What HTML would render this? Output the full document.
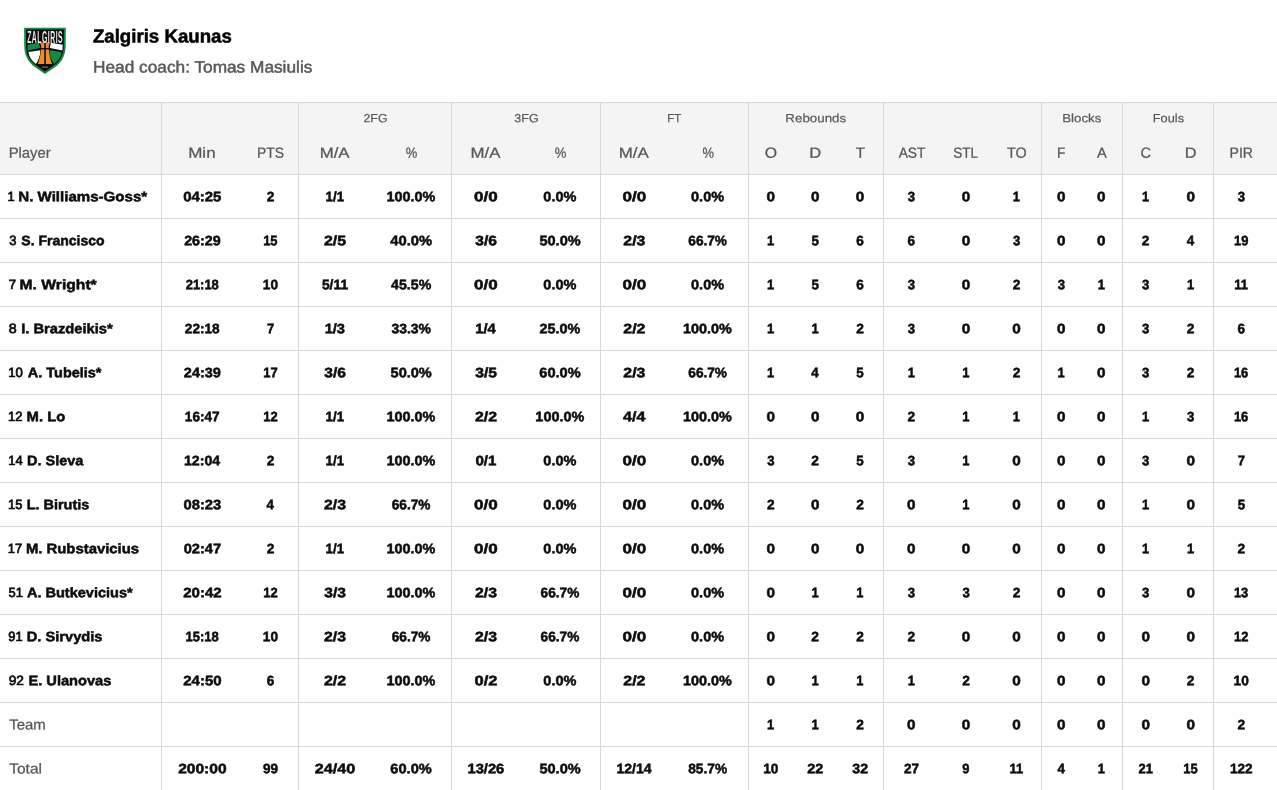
<!DOCTYPE html>
<html lang="en">
<head>
<meta charset="utf-8">
<title>Zalgiris Kaunas - Box score</title>
<style>
*{box-sizing:border-box;margin:0;padding:0}
html,body{width:1277px;height:790px;overflow:hidden;background:#fff}
body{font-family:"Liberation Sans",sans-serif;color:#0d0d0d}
.page{will-change:transform;position:relative;width:1277px;height:790px;overflow:hidden}
.team{position:absolute;left:0;top:0;width:1277px;height:102px}
.logo{position:absolute;left:20px;top:24px;width:50px;height:54px}
.logo svg{display:block}
.x{position:absolute;left:0;top:0;display:block;white-space:nowrap;line-height:20px;transform-origin:0 0;font-size:14.7px}
.tname{color:#000}
.coach{color:#575757}
.tbl{position:absolute;left:0;top:102px;width:1277px;height:688px}
.hd{position:absolute;left:0;top:0;width:1277px;height:73px;background:#f4f4f4;border-top:1px solid #d8d8d8;border-bottom:1px solid #d8d8d8;color:#575757}
.hd .c{top:0;height:71px}
.r{position:absolute;left:0;width:1277px;height:44px;border-bottom:1px solid #d8d8d8}
.c{position:absolute;top:0;height:43px}
.t{color:#575757}
.vl{position:absolute;top:1px;width:1px;height:687px;background:#d8d8d8}
.tname{font-weight:700;font-size:18.6px;-webkit-text-stroke:0.5px currentColor}
.coach{font-weight:400;font-size:17.2px;-webkit-text-stroke:0.5px currentColor}
.h{font-weight:400;font-size:14.7px;-webkit-text-stroke:0.25px currentColor}
.g{font-weight:400;font-size:13px;-webkit-text-stroke:0.2px currentColor}
b.x{font-weight:700;font-size:14.7px;-webkit-text-stroke:0.55px currentColor}
.n{font-weight:400;font-size:14.7px;-webkit-text-stroke:0.8px currentColor}
.t{font-weight:400;font-size:14.7px;-webkit-text-stroke:0.25px currentColor}
</style>
</head>
<body>
<div class="page">
<div class="team">
<div class="logo"><svg width="50" height="54" viewBox="0 0 731 790">
<path d="M60,55 L670,55 L668,330 C665,450 620,540 540,612 L365,732 L190,612 C110,540 65,450 62,330 Z" fill="#0d8a43"/>
<path d="M88,82 L642,82 L640,330 C637,440 598,522 522,586 L365,696 L208,586 C132,522 93,440 90,330 Z" fill="#0a0a0a"/>
<path d="M110,304 L280,274 L294,350 L114,388 Z" fill="#138a45"/>
<path d="M450,274 L626,304 L620,388 L438,350 Z" fill="#ffffff"/>
<path d="M122,410 L296,384 C298,450 278,520 232,586 C172,540 132,480 122,410 Z" fill="#ffffff"/>
<path d="M436,384 L610,410 C598,480 558,540 498,586 C452,520 432,450 436,384 Z" fill="#138a45"/>
<path d="M288,268 L442,268 C424,300 418,325 421,350 C428,450 445,520 470,586 L260,586 C285,520 302,450 309,350 C312,325 306,300 288,268 Z" fill="#f08a24"/>
<rect x="355" y="266" width="22" height="324" fill="#0a0a0a"/>
<rect x="302" y="352" width="126" height="20" fill="#0a0a0a"/>
<text transform="translate(368 274) scale(0.43 1)" text-anchor="middle" fill="#ffffff" font-family="Liberation Sans" font-weight="700" font-size="232" letter-spacing="18" stroke="#0a0a0a" stroke-width="3">ZALGIRIS</text>
<path d="M118,98 L134,108 L150,98 L150,106 L134,116 L118,106 Z" fill="#ffffff" opacity="0.8"/>
<rect x="320" y="624" width="92" height="13" fill="#cfcfcf" opacity="0.7"/>
</svg>
</div>
<h2 class="x tname" style="transform:matrix(1.0033,0.0005,0,1.0113,92.90,26.37)">Zalgiris Kaunas</h2>
<p class="x coach" style="transform:matrix(1.0039,0.0005,0,0.9469,93.05,57.31)">Head coach: Tomas Masiulis</p>
</div>
<div class="tbl">
<div class="hd">
<div class="c" style="left:0px;width:161px"><span class="x h" style="transform:matrix(1.0099,0.0005,0,1.0000,8.64,39.85)">Player</span></div>
<div class="c" style="left:162px;width:81px"><span class="x h" style="transform:matrix(1.1591,0.0005,0,1.0000,26.19,39.85)">Min</span></div>
<div class="c" style="left:243px;width:55px"><span class="x h" style="transform:matrix(0.9481,0.0005,0,1.0000,14.00,39.85)">PTS</span></div>
<div class="c" style="left:299px;width:72px"><span class="x h" style="transform:matrix(1.1406,0.0005,0,1.0000,20.71,39.85)">M/A</span></div>
<div class="c" style="left:371px;width:80px"><span class="x h" style="transform:matrix(0.8800,0.0005,0,1.0000,34.63,39.85)">%</span></div>
<div class="c" style="left:452px;width:68px"><span class="x h" style="transform:matrix(1.1446,0.0005,0,1.0000,18.61,39.85)">M/A</span></div>
<div class="c" style="left:520px;width:80px"><span class="x h" style="transform:matrix(0.8880,0.0005,0,1.0000,34.73,39.85)">%</span></div>
<div class="c" style="left:601px;width:67px"><span class="x h" style="transform:matrix(1.1525,0.0005,0,1.0000,17.70,39.85)">M/A</span></div>
<div class="c" style="left:668px;width:80px"><span class="x h" style="transform:matrix(0.8800,0.0005,0,1.0000,34.53,39.85)">%</span></div>
<div class="c" style="left:749px;width:43px"><span class="x h" style="transform:matrix(1.0762,0.0005,0,1.0000,15.71,39.85)">O</span></div>
<div class="c" style="left:792px;width:46px"><span class="x h" style="transform:matrix(1.1222,0.0005,0,1.0000,17.23,39.85)">D</span></div>
<div class="c" style="left:838px;width:45px"><span class="x h" style="transform:matrix(1.0235,0.0005,0,1.0000,17.79,39.85)">T</span></div>
<div class="c" style="left:884px;width:54px"><span class="x h" style="transform:matrix(0.9381,0.0005,0,1.0000,14.65,39.85)">AST</span></div>
<div class="c" style="left:938px;width:55px"><span class="x h" style="transform:matrix(0.9231,0.0005,0,1.0000,15.29,39.85)">STL</span></div>
<div class="c" style="left:993px;width:48px"><span class="x h" style="transform:matrix(0.9766,0.0005,0,1.0000,13.91,39.85)">TO</span></div>
<div class="c" style="left:1042px;width:39px"><span class="x h" style="transform:matrix(0.9333,0.0005,0,1.0000,15.02,39.85)">F</span></div>
<div class="c" style="left:1081px;width:41px"><span class="x h" style="transform:matrix(1.0000,0.0005,0,1.0000,16.05,39.85)">A</span></div>
<div class="c" style="left:1123px;width:45px"><span class="x h" style="transform:matrix(0.9949,0.0005,0,1.0000,17.45,39.85)">C</span></div>
<div class="c" style="left:1168px;width:45px"><span class="x h" style="transform:matrix(1.1111,0.0005,0,1.0000,16.84,39.85)">D</span></div>
<div class="c" style="left:1214px;width:63px"><span class="x h" style="transform:matrix(0.9609,0.0005,0,1.0000,15.49,39.85)">PIR</span></div>
<span class="x g" style="transform:matrix(0.9500,0.0005,0,0.9189,363.47,6.46)">2FG</span>
<span class="x g" style="transform:matrix(0.9625,0.0005,0,0.9189,514.37,6.46)">3FG</span>
<span class="x g" style="transform:matrix(0.8800,0.0005,0,0.9189,667.28,6.46)">FT</span>
<span class="x g" style="transform:matrix(1.0276,0.0005,0,0.9189,785.32,6.46)">Rebounds</span>
<span class="x g" style="transform:matrix(1.0243,0.0005,0,0.9189,1062.13,6.46)">Blocks</span>
<span class="x g" style="transform:matrix(0.9836,0.0005,0,0.9189,1152.77,6.46)">Fouls</span>
</div>
<div class="r" style="top:73px"><div class="c" style="left:0px;width:161px"><span class="x n" style="transform:matrix(0.8800,0.0005,0,0.9136,7.60,12.25)">1</span><b class="x" style="transform:matrix(1.0267,0.0005,0,0.9349,18.28,12.18)">N. Williams-Goss*</b></div><div class="c" style="left:162px;width:81px"><b class="x" style="transform:matrix(1.0158,0.0005,0,0.9349,21.18,12.18)">04:25</b></div><div class="c" style="left:243px;width:55px"><b class="x" style="transform:matrix(0.9362,0.0005,0,0.9349,23.64,12.18)">2</b></div><div class="c" style="left:299px;width:72px"><b class="x" style="transform:matrix(0.9065,0.0005,0,0.9349,26.60,12.18)">1/1</b></div><div class="c" style="left:371px;width:80px"><b class="x" style="transform:matrix(0.9804,0.0005,0,0.9349,15.47,12.18)">100.0%</b></div><div class="c" style="left:452px;width:68px"><b class="x" style="transform:matrix(1.1592,0.0005,0,0.9349,22.12,12.18)">0/0</b></div><div class="c" style="left:520px;width:80px"><b class="x" style="transform:matrix(0.9881,0.0005,0,0.9349,23.33,12.18)">0.0%</b></div><div class="c" style="left:601px;width:67px"><b class="x" style="transform:matrix(1.1592,0.0005,0,0.9349,21.52,12.18)">0/0</b></div><div class="c" style="left:668px;width:80px"><b class="x" style="transform:matrix(0.9881,0.0005,0,0.9349,23.03,12.18)">0.0%</b></div><div class="c" style="left:749px;width:43px"><b class="x" style="transform:matrix(1.0377,0.0005,0,0.9349,17.57,12.18)">0</b></div><div class="c" style="left:792px;width:46px"><b class="x" style="transform:matrix(1.0377,0.0005,0,0.9349,18.92,12.18)">0</b></div><div class="c" style="left:838px;width:45px"><b class="x" style="transform:matrix(1.0377,0.0005,0,0.9349,17.72,12.18)">0</b></div><div class="c" style="left:884px;width:54px"><b class="x" style="transform:matrix(0.8979,0.0005,0,0.9349,23.81,12.18)">3</b></div><div class="c" style="left:938px;width:55px"><b class="x" style="transform:matrix(1.0377,0.0005,0,0.9349,23.72,12.18)">0</b></div><div class="c" style="left:993px;width:48px"><b class="x" style="transform:matrix(0.8800,0.0005,0,0.9349,19.76,12.18)">1</b></div><div class="c" style="left:1042px;width:39px"><b class="x" style="transform:matrix(1.0377,0.0005,0,0.9349,15.02,12.18)">0</b></div><div class="c" style="left:1081px;width:41px"><b class="x" style="transform:matrix(1.0377,0.0005,0,0.9349,16.12,12.18)">0</b></div><div class="c" style="left:1123px;width:45px"><b class="x" style="transform:matrix(0.8800,0.0005,0,0.9349,18.96,12.18)">1</b></div><div class="c" style="left:1168px;width:45px"><b class="x" style="transform:matrix(1.0377,0.0005,0,0.9349,18.42,12.18)">0</b></div><div class="c" style="left:1214px;width:63px"><b class="x" style="transform:matrix(0.8979,0.0005,0,0.9349,23.71,12.18)">3</b></div></div>
<div class="r" style="top:117px"><div class="c" style="left:0px;width:161px"><span class="x n" style="transform:matrix(0.8800,0.0005,0,0.9136,9.13,12.25)">3</span><b class="x" style="transform:matrix(0.9546,0.0005,0,0.9349,21.30,12.18)">S. Francisco</b></div><div class="c" style="left:162px;width:81px"><b class="x" style="transform:matrix(0.9708,0.0005,0,0.9349,22.15,12.18)">26:29</b></div><div class="c" style="left:243px;width:55px"><b class="x" style="transform:matrix(0.8800,0.0005,0,0.9349,20.13,12.18)">15</b></div><div class="c" style="left:299px;width:72px"><b class="x" style="transform:matrix(1.0820,0.0005,0,0.9349,24.91,12.18)">2/5</b></div><div class="c" style="left:371px;width:80px"><b class="x" style="transform:matrix(1.0024,0.0005,0,0.9349,19.30,12.18)">40.0%</b></div><div class="c" style="left:452px;width:68px"><b class="x" style="transform:matrix(1.0580,0.0005,0,0.9349,23.29,12.18)">3/6</b></div><div class="c" style="left:520px;width:80px"><b class="x" style="transform:matrix(0.9911,0.0005,0,0.9349,19.43,12.18)">50.0%</b></div><div class="c" style="left:601px;width:67px"><b class="x" style="transform:matrix(1.0770,0.0005,0,0.9349,22.36,12.18)">2/3</b></div><div class="c" style="left:668px;width:80px"><b class="x" style="transform:matrix(0.9294,0.0005,0,0.9349,20.30,12.18)">66.7%</b></div><div class="c" style="left:749px;width:43px"><b class="x" style="transform:matrix(0.8800,0.0005,0,0.9349,18.11,12.18)">1</b></div><div class="c" style="left:792px;width:46px"><b class="x" style="transform:matrix(0.9106,0.0005,0,0.9349,19.56,12.18)">5</b></div><div class="c" style="left:838px;width:45px"><b class="x" style="transform:matrix(0.9214,0.0005,0,0.9349,18.20,12.18)">6</b></div><div class="c" style="left:884px;width:54px"><b class="x" style="transform:matrix(0.9214,0.0005,0,0.9349,23.60,12.18)">6</b></div><div class="c" style="left:938px;width:55px"><b class="x" style="transform:matrix(1.0377,0.0005,0,0.9349,23.72,12.18)">0</b></div><div class="c" style="left:993px;width:48px"><b class="x" style="transform:matrix(0.8979,0.0005,0,0.9349,19.91,12.18)">3</b></div><div class="c" style="left:1042px;width:39px"><b class="x" style="transform:matrix(1.0377,0.0005,0,0.9349,15.02,12.18)">0</b></div><div class="c" style="left:1081px;width:41px"><b class="x" style="transform:matrix(1.0377,0.0005,0,0.9349,16.12,12.18)">0</b></div><div class="c" style="left:1123px;width:45px"><b class="x" style="transform:matrix(0.9362,0.0005,0,0.9349,18.84,12.18)">2</b></div><div class="c" style="left:1168px;width:45px"><b class="x" style="transform:matrix(0.9121,0.0005,0,0.9349,18.82,12.18)">4</b></div><div class="c" style="left:1214px;width:63px"><b class="x" style="transform:matrix(0.8800,0.0005,0,0.9349,20.04,12.18)">19</b></div></div>
<div class="r" style="top:161px"><div class="c" style="left:0px;width:161px"><span class="x n" style="transform:matrix(0.8933,0.0005,0,0.9136,8.73,12.25)">7</span><b class="x" style="transform:matrix(1.0674,0.0005,0,0.9349,19.50,12.18)">M. Wright*</b></div><div class="c" style="left:162px;width:81px"><b class="x" style="transform:matrix(0.8800,0.0005,0,0.9349,23.74,12.18)">21:18</b></div><div class="c" style="left:243px;width:55px"><b class="x" style="transform:matrix(0.9314,0.0005,0,0.9349,19.82,12.18)">10</b></div><div class="c" style="left:299px;width:72px"><b class="x" style="transform:matrix(0.9434,0.0005,0,0.9349,22.91,12.18)">5/11</b></div><div class="c" style="left:371px;width:80px"><b class="x" style="transform:matrix(0.9659,0.0005,0,0.9349,20.06,12.18)">45.5%</b></div><div class="c" style="left:452px;width:68px"><b class="x" style="transform:matrix(1.1592,0.0005,0,0.9349,22.12,12.18)">0/0</b></div><div class="c" style="left:520px;width:80px"><b class="x" style="transform:matrix(0.9881,0.0005,0,0.9349,23.33,12.18)">0.0%</b></div><div class="c" style="left:601px;width:67px"><b class="x" style="transform:matrix(1.1592,0.0005,0,0.9349,21.52,12.18)">0/0</b></div><div class="c" style="left:668px;width:80px"><b class="x" style="transform:matrix(0.9881,0.0005,0,0.9349,23.03,12.18)">0.0%</b></div><div class="c" style="left:749px;width:43px"><b class="x" style="transform:matrix(0.8800,0.0005,0,0.9349,18.11,12.18)">1</b></div><div class="c" style="left:792px;width:46px"><b class="x" style="transform:matrix(0.9106,0.0005,0,0.9349,19.56,12.18)">5</b></div><div class="c" style="left:838px;width:45px"><b class="x" style="transform:matrix(0.9214,0.0005,0,0.9349,18.20,12.18)">6</b></div><div class="c" style="left:884px;width:54px"><b class="x" style="transform:matrix(0.8979,0.0005,0,0.9349,23.81,12.18)">3</b></div><div class="c" style="left:938px;width:55px"><b class="x" style="transform:matrix(1.0377,0.0005,0,0.9349,23.72,12.18)">0</b></div><div class="c" style="left:993px;width:48px"><b class="x" style="transform:matrix(0.9362,0.0005,0,0.9349,19.64,12.18)">2</b></div><div class="c" style="left:1042px;width:39px"><b class="x" style="transform:matrix(0.8979,0.0005,0,0.9349,15.71,12.18)">3</b></div><div class="c" style="left:1081px;width:41px"><b class="x" style="transform:matrix(0.8800,0.0005,0,0.9349,16.66,12.18)">1</b></div><div class="c" style="left:1123px;width:45px"><b class="x" style="transform:matrix(0.8979,0.0005,0,0.9349,19.11,12.18)">3</b></div><div class="c" style="left:1168px;width:45px"><b class="x" style="transform:matrix(0.8800,0.0005,0,0.9349,18.96,12.18)">1</b></div><div class="c" style="left:1214px;width:63px"><b class="x" style="transform:matrix(0.8800,0.0005,0,0.9349,20.26,12.18)">11</b></div></div>
<div class="r" style="top:205px"><div class="c" style="left:0px;width:161px"><span class="x n" style="transform:matrix(0.9677,0.0005,0,0.9136,8.71,12.25)">8</span><b class="x" style="transform:matrix(1.0011,0.0005,0,0.9349,21.20,12.18)">I. Brazdeikis*</b></div><div class="c" style="left:162px;width:81px"><b class="x" style="transform:matrix(0.9270,0.0005,0,0.9349,22.85,12.18)">22:18</b></div><div class="c" style="left:243px;width:55px"><b class="x" style="transform:matrix(0.8800,0.0005,0,0.9349,23.98,12.18)">7</b></div><div class="c" style="left:299px;width:72px"><b class="x" style="transform:matrix(0.9967,0.0005,0,0.9349,25.66,12.18)">1/3</b></div><div class="c" style="left:371px;width:80px"><b class="x" style="transform:matrix(0.9473,0.0005,0,0.9349,20.44,12.18)">33.3%</b></div><div class="c" style="left:452px;width:68px"><b class="x" style="transform:matrix(1.0002,0.0005,0,0.9349,23.37,12.18)">1/4</b></div><div class="c" style="left:520px;width:80px"><b class="x" style="transform:matrix(0.9781,0.0005,0,0.9349,19.58,12.18)">25.0%</b></div><div class="c" style="left:601px;width:67px"><b class="x" style="transform:matrix(1.0806,0.0005,0,0.9349,22.32,12.18)">2/2</b></div><div class="c" style="left:668px;width:80px"><b class="x" style="transform:matrix(0.9804,0.0005,0,0.9349,15.07,12.18)">100.0%</b></div><div class="c" style="left:749px;width:43px"><b class="x" style="transform:matrix(0.8800,0.0005,0,0.9349,18.11,12.18)">1</b></div><div class="c" style="left:792px;width:46px"><b class="x" style="transform:matrix(0.8800,0.0005,0,0.9349,19.46,12.18)">1</b></div><div class="c" style="left:838px;width:45px"><b class="x" style="transform:matrix(0.9362,0.0005,0,0.9349,18.14,12.18)">2</b></div><div class="c" style="left:884px;width:54px"><b class="x" style="transform:matrix(0.8979,0.0005,0,0.9349,23.81,12.18)">3</b></div><div class="c" style="left:938px;width:55px"><b class="x" style="transform:matrix(1.0377,0.0005,0,0.9349,23.72,12.18)">0</b></div><div class="c" style="left:993px;width:48px"><b class="x" style="transform:matrix(1.0377,0.0005,0,0.9349,19.22,12.18)">0</b></div><div class="c" style="left:1042px;width:39px"><b class="x" style="transform:matrix(1.0377,0.0005,0,0.9349,15.02,12.18)">0</b></div><div class="c" style="left:1081px;width:41px"><b class="x" style="transform:matrix(1.0377,0.0005,0,0.9349,16.12,12.18)">0</b></div><div class="c" style="left:1123px;width:45px"><b class="x" style="transform:matrix(0.8979,0.0005,0,0.9349,19.11,12.18)">3</b></div><div class="c" style="left:1168px;width:45px"><b class="x" style="transform:matrix(0.9362,0.0005,0,0.9349,18.84,12.18)">2</b></div><div class="c" style="left:1214px;width:63px"><b class="x" style="transform:matrix(0.9214,0.0005,0,0.9349,23.50,12.18)">6</b></div></div>
<div class="r" style="top:249px"><div class="c" style="left:0px;width:161px"><span class="x n" style="transform:matrix(0.8968,0.0005,0,0.9136,8.28,12.25)">10</span><b class="x" style="transform:matrix(0.9840,0.0005,0,0.9349,27.85,12.18)">A. Tubelis*</b></div><div class="c" style="left:162px;width:81px"><b class="x" style="transform:matrix(0.9854,0.0005,0,0.9349,21.87,12.18)">24:39</b></div><div class="c" style="left:243px;width:55px"><b class="x" style="transform:matrix(0.8800,0.0005,0,0.9349,20.24,12.18)">17</b></div><div class="c" style="left:299px;width:72px"><b class="x" style="transform:matrix(1.0580,0.0005,0,0.9349,25.29,12.18)">3/6</b></div><div class="c" style="left:371px;width:80px"><b class="x" style="transform:matrix(0.9911,0.0005,0,0.9349,19.53,12.18)">50.0%</b></div><div class="c" style="left:452px;width:68px"><b class="x" style="transform:matrix(1.0651,0.0005,0,0.9349,23.22,12.18)">3/5</b></div><div class="c" style="left:520px;width:80px"><b class="x" style="transform:matrix(0.9937,0.0005,0,0.9349,19.26,12.18)">60.0%</b></div><div class="c" style="left:601px;width:67px"><b class="x" style="transform:matrix(1.0770,0.0005,0,0.9349,22.36,12.18)">2/3</b></div><div class="c" style="left:668px;width:80px"><b class="x" style="transform:matrix(0.9294,0.0005,0,0.9349,20.30,12.18)">66.7%</b></div><div class="c" style="left:749px;width:43px"><b class="x" style="transform:matrix(0.8800,0.0005,0,0.9349,18.11,12.18)">1</b></div><div class="c" style="left:792px;width:46px"><b class="x" style="transform:matrix(0.9121,0.0005,0,0.9349,19.32,12.18)">4</b></div><div class="c" style="left:838px;width:45px"><b class="x" style="transform:matrix(0.9106,0.0005,0,0.9349,18.36,12.18)">5</b></div><div class="c" style="left:884px;width:54px"><b class="x" style="transform:matrix(0.8800,0.0005,0,0.9349,23.66,12.18)">1</b></div><div class="c" style="left:938px;width:55px"><b class="x" style="transform:matrix(0.8800,0.0005,0,0.9349,24.26,12.18)">1</b></div><div class="c" style="left:993px;width:48px"><b class="x" style="transform:matrix(0.9362,0.0005,0,0.9349,19.64,12.18)">2</b></div><div class="c" style="left:1042px;width:39px"><b class="x" style="transform:matrix(0.8800,0.0005,0,0.9349,15.56,12.18)">1</b></div><div class="c" style="left:1081px;width:41px"><b class="x" style="transform:matrix(1.0377,0.0005,0,0.9349,16.12,12.18)">0</b></div><div class="c" style="left:1123px;width:45px"><b class="x" style="transform:matrix(0.8979,0.0005,0,0.9349,19.11,12.18)">3</b></div><div class="c" style="left:1168px;width:45px"><b class="x" style="transform:matrix(0.9362,0.0005,0,0.9349,18.84,12.18)">2</b></div><div class="c" style="left:1214px;width:63px"><b class="x" style="transform:matrix(0.8800,0.0005,0,0.9349,19.93,12.18)">16</b></div></div>
<div class="r" style="top:293px"><div class="c" style="left:0px;width:161px"><span class="x n" style="transform:matrix(0.8800,0.0005,0,0.9136,8.08,12.25)">12</span><b class="x" style="transform:matrix(1.0094,0.0005,0,0.9349,26.59,12.18)">M. Lo</b></div><div class="c" style="left:162px;width:81px"><b class="x" style="transform:matrix(0.9276,0.0005,0,0.9349,22.84,12.18)">16:47</b></div><div class="c" style="left:243px;width:55px"><b class="x" style="transform:matrix(0.8806,0.0005,0,0.9349,20.23,12.18)">12</b></div><div class="c" style="left:299px;width:72px"><b class="x" style="transform:matrix(0.9065,0.0005,0,0.9349,26.60,12.18)">1/1</b></div><div class="c" style="left:371px;width:80px"><b class="x" style="transform:matrix(0.9804,0.0005,0,0.9349,15.47,12.18)">100.0%</b></div><div class="c" style="left:452px;width:68px"><b class="x" style="transform:matrix(1.0806,0.0005,0,0.9349,22.92,12.18)">2/2</b></div><div class="c" style="left:520px;width:80px"><b class="x" style="transform:matrix(0.9804,0.0005,0,0.9349,15.37,12.18)">100.0%</b></div><div class="c" style="left:601px;width:67px"><b class="x" style="transform:matrix(1.0895,0.0005,0,0.9349,22.10,12.18)">4/4</b></div><div class="c" style="left:668px;width:80px"><b class="x" style="transform:matrix(0.9804,0.0005,0,0.9349,15.07,12.18)">100.0%</b></div><div class="c" style="left:749px;width:43px"><b class="x" style="transform:matrix(1.0377,0.0005,0,0.9349,17.57,12.18)">0</b></div><div class="c" style="left:792px;width:46px"><b class="x" style="transform:matrix(1.0377,0.0005,0,0.9349,18.92,12.18)">0</b></div><div class="c" style="left:838px;width:45px"><b class="x" style="transform:matrix(1.0377,0.0005,0,0.9349,17.72,12.18)">0</b></div><div class="c" style="left:884px;width:54px"><b class="x" style="transform:matrix(0.9362,0.0005,0,0.9349,23.54,12.18)">2</b></div><div class="c" style="left:938px;width:55px"><b class="x" style="transform:matrix(0.8800,0.0005,0,0.9349,24.26,12.18)">1</b></div><div class="c" style="left:993px;width:48px"><b class="x" style="transform:matrix(0.8800,0.0005,0,0.9349,19.76,12.18)">1</b></div><div class="c" style="left:1042px;width:39px"><b class="x" style="transform:matrix(1.0377,0.0005,0,0.9349,15.02,12.18)">0</b></div><div class="c" style="left:1081px;width:41px"><b class="x" style="transform:matrix(1.0377,0.0005,0,0.9349,16.12,12.18)">0</b></div><div class="c" style="left:1123px;width:45px"><b class="x" style="transform:matrix(0.8800,0.0005,0,0.9349,18.96,12.18)">1</b></div><div class="c" style="left:1168px;width:45px"><b class="x" style="transform:matrix(0.8979,0.0005,0,0.9349,19.11,12.18)">3</b></div><div class="c" style="left:1214px;width:63px"><b class="x" style="transform:matrix(0.8800,0.0005,0,0.9349,19.93,12.18)">16</b></div></div>
<div class="r" style="top:337px"><div class="c" style="left:0px;width:161px"><span class="x n" style="transform:matrix(0.8839,0.0005,0,0.9136,8.29,12.25)">14</span><b class="x" style="transform:matrix(0.9850,0.0005,0,0.9349,27.11,12.18)">D. Sleva</b></div><div class="c" style="left:162px;width:81px"><b class="x" style="transform:matrix(0.9652,0.0005,0,0.9349,21.89,12.18)">12:04</b></div><div class="c" style="left:243px;width:55px"><b class="x" style="transform:matrix(0.9362,0.0005,0,0.9349,23.64,12.18)">2</b></div><div class="c" style="left:299px;width:72px"><b class="x" style="transform:matrix(0.9065,0.0005,0,0.9349,26.60,12.18)">1/1</b></div><div class="c" style="left:371px;width:80px"><b class="x" style="transform:matrix(0.9804,0.0005,0,0.9349,15.47,12.18)">100.0%</b></div><div class="c" style="left:452px;width:68px"><b class="x" style="transform:matrix(1.0272,0.0005,0,0.9349,23.47,12.18)">0/1</b></div><div class="c" style="left:520px;width:80px"><b class="x" style="transform:matrix(0.9881,0.0005,0,0.9349,23.33,12.18)">0.0%</b></div><div class="c" style="left:601px;width:67px"><b class="x" style="transform:matrix(1.1592,0.0005,0,0.9349,21.52,12.18)">0/0</b></div><div class="c" style="left:668px;width:80px"><b class="x" style="transform:matrix(0.9881,0.0005,0,0.9349,23.03,12.18)">0.0%</b></div><div class="c" style="left:749px;width:43px"><b class="x" style="transform:matrix(0.8979,0.0005,0,0.9349,18.26,12.18)">3</b></div><div class="c" style="left:792px;width:46px"><b class="x" style="transform:matrix(0.9362,0.0005,0,0.9349,19.34,12.18)">2</b></div><div class="c" style="left:838px;width:45px"><b class="x" style="transform:matrix(0.9106,0.0005,0,0.9349,18.36,12.18)">5</b></div><div class="c" style="left:884px;width:54px"><b class="x" style="transform:matrix(0.8979,0.0005,0,0.9349,23.81,12.18)">3</b></div><div class="c" style="left:938px;width:55px"><b class="x" style="transform:matrix(0.8800,0.0005,0,0.9349,24.26,12.18)">1</b></div><div class="c" style="left:993px;width:48px"><b class="x" style="transform:matrix(1.0377,0.0005,0,0.9349,19.22,12.18)">0</b></div><div class="c" style="left:1042px;width:39px"><b class="x" style="transform:matrix(1.0377,0.0005,0,0.9349,15.02,12.18)">0</b></div><div class="c" style="left:1081px;width:41px"><b class="x" style="transform:matrix(1.0377,0.0005,0,0.9349,16.12,12.18)">0</b></div><div class="c" style="left:1123px;width:45px"><b class="x" style="transform:matrix(0.8979,0.0005,0,0.9349,19.11,12.18)">3</b></div><div class="c" style="left:1168px;width:45px"><b class="x" style="transform:matrix(1.0377,0.0005,0,0.9349,18.42,12.18)">0</b></div><div class="c" style="left:1214px;width:63px"><b class="x" style="transform:matrix(0.8800,0.0005,0,0.9349,23.78,12.18)">7</b></div></div>
<div class="r" style="top:381px"><div class="c" style="left:0px;width:161px"><span class="x n" style="transform:matrix(0.8800,0.0005,0,0.9136,7.97,12.25)">15</span><b class="x" style="transform:matrix(0.9824,0.0005,0,0.9349,26.71,12.18)">L. Birutis</b></div><div class="c" style="left:162px;width:81px"><b class="x" style="transform:matrix(1.0027,0.0005,0,0.9349,21.55,12.18)">08:23</b></div><div class="c" style="left:243px;width:55px"><b class="x" style="transform:matrix(0.9121,0.0005,0,0.9349,23.62,12.18)">4</b></div><div class="c" style="left:299px;width:72px"><b class="x" style="transform:matrix(1.0770,0.0005,0,0.9349,24.96,12.18)">2/3</b></div><div class="c" style="left:371px;width:80px"><b class="x" style="transform:matrix(0.9294,0.0005,0,0.9349,20.70,12.18)">66.7%</b></div><div class="c" style="left:452px;width:68px"><b class="x" style="transform:matrix(1.1592,0.0005,0,0.9349,22.12,12.18)">0/0</b></div><div class="c" style="left:520px;width:80px"><b class="x" style="transform:matrix(0.9881,0.0005,0,0.9349,23.33,12.18)">0.0%</b></div><div class="c" style="left:601px;width:67px"><b class="x" style="transform:matrix(1.1592,0.0005,0,0.9349,21.52,12.18)">0/0</b></div><div class="c" style="left:668px;width:80px"><b class="x" style="transform:matrix(0.9881,0.0005,0,0.9349,23.03,12.18)">0.0%</b></div><div class="c" style="left:749px;width:43px"><b class="x" style="transform:matrix(0.9362,0.0005,0,0.9349,17.99,12.18)">2</b></div><div class="c" style="left:792px;width:46px"><b class="x" style="transform:matrix(1.0377,0.0005,0,0.9349,18.92,12.18)">0</b></div><div class="c" style="left:838px;width:45px"><b class="x" style="transform:matrix(0.9362,0.0005,0,0.9349,18.14,12.18)">2</b></div><div class="c" style="left:884px;width:54px"><b class="x" style="transform:matrix(1.0377,0.0005,0,0.9349,23.12,12.18)">0</b></div><div class="c" style="left:938px;width:55px"><b class="x" style="transform:matrix(0.8800,0.0005,0,0.9349,24.26,12.18)">1</b></div><div class="c" style="left:993px;width:48px"><b class="x" style="transform:matrix(1.0377,0.0005,0,0.9349,19.22,12.18)">0</b></div><div class="c" style="left:1042px;width:39px"><b class="x" style="transform:matrix(1.0377,0.0005,0,0.9349,15.02,12.18)">0</b></div><div class="c" style="left:1081px;width:41px"><b class="x" style="transform:matrix(1.0377,0.0005,0,0.9349,16.12,12.18)">0</b></div><div class="c" style="left:1123px;width:45px"><b class="x" style="transform:matrix(0.8800,0.0005,0,0.9349,18.96,12.18)">1</b></div><div class="c" style="left:1168px;width:45px"><b class="x" style="transform:matrix(1.0377,0.0005,0,0.9349,18.42,12.18)">0</b></div><div class="c" style="left:1214px;width:63px"><b class="x" style="transform:matrix(0.9106,0.0005,0,0.9349,23.66,12.18)">5</b></div></div>
<div class="r" style="top:425px"><div class="c" style="left:0px;width:161px"><span class="x n" style="transform:matrix(0.8800,0.0005,0,0.9136,7.83,12.25)">17</span><b class="x" style="transform:matrix(1.0122,0.0005,0,0.9349,25.89,12.18)">M. Rubstavicius</b></div><div class="c" style="left:162px;width:81px"><b class="x" style="transform:matrix(0.9958,0.0005,0,0.9349,21.68,12.18)">02:47</b></div><div class="c" style="left:243px;width:55px"><b class="x" style="transform:matrix(0.9362,0.0005,0,0.9349,23.64,12.18)">2</b></div><div class="c" style="left:299px;width:72px"><b class="x" style="transform:matrix(0.9065,0.0005,0,0.9349,26.60,12.18)">1/1</b></div><div class="c" style="left:371px;width:80px"><b class="x" style="transform:matrix(0.9804,0.0005,0,0.9349,15.47,12.18)">100.0%</b></div><div class="c" style="left:452px;width:68px"><b class="x" style="transform:matrix(1.1592,0.0005,0,0.9349,22.12,12.18)">0/0</b></div><div class="c" style="left:520px;width:80px"><b class="x" style="transform:matrix(0.9881,0.0005,0,0.9349,23.33,12.18)">0.0%</b></div><div class="c" style="left:601px;width:67px"><b class="x" style="transform:matrix(1.1592,0.0005,0,0.9349,21.52,12.18)">0/0</b></div><div class="c" style="left:668px;width:80px"><b class="x" style="transform:matrix(0.9881,0.0005,0,0.9349,23.03,12.18)">0.0%</b></div><div class="c" style="left:749px;width:43px"><b class="x" style="transform:matrix(1.0377,0.0005,0,0.9349,17.57,12.18)">0</b></div><div class="c" style="left:792px;width:46px"><b class="x" style="transform:matrix(1.0377,0.0005,0,0.9349,18.92,12.18)">0</b></div><div class="c" style="left:838px;width:45px"><b class="x" style="transform:matrix(1.0377,0.0005,0,0.9349,17.72,12.18)">0</b></div><div class="c" style="left:884px;width:54px"><b class="x" style="transform:matrix(1.0377,0.0005,0,0.9349,23.12,12.18)">0</b></div><div class="c" style="left:938px;width:55px"><b class="x" style="transform:matrix(1.0377,0.0005,0,0.9349,23.72,12.18)">0</b></div><div class="c" style="left:993px;width:48px"><b class="x" style="transform:matrix(1.0377,0.0005,0,0.9349,19.22,12.18)">0</b></div><div class="c" style="left:1042px;width:39px"><b class="x" style="transform:matrix(1.0377,0.0005,0,0.9349,15.02,12.18)">0</b></div><div class="c" style="left:1081px;width:41px"><b class="x" style="transform:matrix(1.0377,0.0005,0,0.9349,16.12,12.18)">0</b></div><div class="c" style="left:1123px;width:45px"><b class="x" style="transform:matrix(0.8800,0.0005,0,0.9349,18.96,12.18)">1</b></div><div class="c" style="left:1168px;width:45px"><b class="x" style="transform:matrix(0.8800,0.0005,0,0.9349,18.96,12.18)">1</b></div><div class="c" style="left:1214px;width:63px"><b class="x" style="transform:matrix(0.9362,0.0005,0,0.9349,23.44,12.18)">2</b></div></div>
<div class="r" style="top:469px"><div class="c" style="left:0px;width:161px"><span class="x n" style="transform:matrix(0.8800,0.0005,0,0.9136,8.50,12.25)">51</span><b class="x" style="transform:matrix(0.9883,0.0005,0,0.9349,26.95,12.18)">A. Butkevicius*</b></div><div class="c" style="left:162px;width:81px"><b class="x" style="transform:matrix(1.0219,0.0005,0,0.9349,21.19,12.18)">20:42</b></div><div class="c" style="left:243px;width:55px"><b class="x" style="transform:matrix(0.8806,0.0005,0,0.9349,20.23,12.18)">12</b></div><div class="c" style="left:299px;width:72px"><b class="x" style="transform:matrix(1.0601,0.0005,0,0.9349,25.27,12.18)">3/3</b></div><div class="c" style="left:371px;width:80px"><b class="x" style="transform:matrix(0.9804,0.0005,0,0.9349,15.47,12.18)">100.0%</b></div><div class="c" style="left:452px;width:68px"><b class="x" style="transform:matrix(1.0770,0.0005,0,0.9349,22.96,12.18)">2/3</b></div><div class="c" style="left:520px;width:80px"><b class="x" style="transform:matrix(0.9294,0.0005,0,0.9349,20.60,12.18)">66.7%</b></div><div class="c" style="left:601px;width:67px"><b class="x" style="transform:matrix(1.1592,0.0005,0,0.9349,21.52,12.18)">0/0</b></div><div class="c" style="left:668px;width:80px"><b class="x" style="transform:matrix(0.9881,0.0005,0,0.9349,23.03,12.18)">0.0%</b></div><div class="c" style="left:749px;width:43px"><b class="x" style="transform:matrix(1.0377,0.0005,0,0.9349,17.57,12.18)">0</b></div><div class="c" style="left:792px;width:46px"><b class="x" style="transform:matrix(0.8800,0.0005,0,0.9349,19.46,12.18)">1</b></div><div class="c" style="left:838px;width:45px"><b class="x" style="transform:matrix(0.8800,0.0005,0,0.9349,18.26,12.18)">1</b></div><div class="c" style="left:884px;width:54px"><b class="x" style="transform:matrix(0.8979,0.0005,0,0.9349,23.81,12.18)">3</b></div><div class="c" style="left:938px;width:55px"><b class="x" style="transform:matrix(0.8979,0.0005,0,0.9349,24.41,12.18)">3</b></div><div class="c" style="left:993px;width:48px"><b class="x" style="transform:matrix(0.9362,0.0005,0,0.9349,19.64,12.18)">2</b></div><div class="c" style="left:1042px;width:39px"><b class="x" style="transform:matrix(1.0377,0.0005,0,0.9349,15.02,12.18)">0</b></div><div class="c" style="left:1081px;width:41px"><b class="x" style="transform:matrix(1.0377,0.0005,0,0.9349,16.12,12.18)">0</b></div><div class="c" style="left:1123px;width:45px"><b class="x" style="transform:matrix(0.8979,0.0005,0,0.9349,19.11,12.18)">3</b></div><div class="c" style="left:1168px;width:45px"><b class="x" style="transform:matrix(1.0377,0.0005,0,0.9349,18.42,12.18)">0</b></div><div class="c" style="left:1214px;width:63px"><b class="x" style="transform:matrix(0.8800,0.0005,0,0.9349,19.93,12.18)">13</b></div></div>
<div class="r" style="top:513px"><div class="c" style="left:0px;width:161px"><span class="x n" style="transform:matrix(0.8800,0.0005,0,0.9136,8.30,12.25)">91</span><b class="x" style="transform:matrix(0.9980,0.0005,0,0.9349,26.70,12.18)">D. Sirvydis</b></div><div class="c" style="left:162px;width:81px"><b class="x" style="transform:matrix(0.8839,0.0005,0,0.9349,23.55,12.18)">15:18</b></div><div class="c" style="left:243px;width:55px"><b class="x" style="transform:matrix(0.9314,0.0005,0,0.9349,19.82,12.18)">10</b></div><div class="c" style="left:299px;width:72px"><b class="x" style="transform:matrix(1.0770,0.0005,0,0.9349,24.96,12.18)">2/3</b></div><div class="c" style="left:371px;width:80px"><b class="x" style="transform:matrix(0.9294,0.0005,0,0.9349,20.70,12.18)">66.7%</b></div><div class="c" style="left:452px;width:68px"><b class="x" style="transform:matrix(1.0770,0.0005,0,0.9349,22.96,12.18)">2/3</b></div><div class="c" style="left:520px;width:80px"><b class="x" style="transform:matrix(0.9294,0.0005,0,0.9349,20.60,12.18)">66.7%</b></div><div class="c" style="left:601px;width:67px"><b class="x" style="transform:matrix(1.1592,0.0005,0,0.9349,21.52,12.18)">0/0</b></div><div class="c" style="left:668px;width:80px"><b class="x" style="transform:matrix(0.9881,0.0005,0,0.9349,23.03,12.18)">0.0%</b></div><div class="c" style="left:749px;width:43px"><b class="x" style="transform:matrix(1.0377,0.0005,0,0.9349,17.57,12.18)">0</b></div><div class="c" style="left:792px;width:46px"><b class="x" style="transform:matrix(0.9362,0.0005,0,0.9349,19.34,12.18)">2</b></div><div class="c" style="left:838px;width:45px"><b class="x" style="transform:matrix(0.9362,0.0005,0,0.9349,18.14,12.18)">2</b></div><div class="c" style="left:884px;width:54px"><b class="x" style="transform:matrix(0.9362,0.0005,0,0.9349,23.54,12.18)">2</b></div><div class="c" style="left:938px;width:55px"><b class="x" style="transform:matrix(1.0377,0.0005,0,0.9349,23.72,12.18)">0</b></div><div class="c" style="left:993px;width:48px"><b class="x" style="transform:matrix(1.0377,0.0005,0,0.9349,19.22,12.18)">0</b></div><div class="c" style="left:1042px;width:39px"><b class="x" style="transform:matrix(1.0377,0.0005,0,0.9349,15.02,12.18)">0</b></div><div class="c" style="left:1081px;width:41px"><b class="x" style="transform:matrix(1.0377,0.0005,0,0.9349,16.12,12.18)">0</b></div><div class="c" style="left:1123px;width:45px"><b class="x" style="transform:matrix(1.0377,0.0005,0,0.9349,18.42,12.18)">0</b></div><div class="c" style="left:1168px;width:45px"><b class="x" style="transform:matrix(1.0377,0.0005,0,0.9349,18.42,12.18)">0</b></div><div class="c" style="left:1214px;width:63px"><b class="x" style="transform:matrix(0.8806,0.0005,0,0.9349,20.03,12.18)">12</b></div></div>
<div class="r" style="top:557px"><div class="c" style="left:0px;width:161px"><span class="x n" style="transform:matrix(0.9333,0.0005,0,0.9136,8.72,12.25)">92</span><b class="x" style="transform:matrix(0.9970,0.0005,0,0.9349,28.40,12.18)">E. Ulanovas</b></div><div class="c" style="left:162px;width:81px"><b class="x" style="transform:matrix(1.0226,0.0005,0,0.9349,21.18,12.18)">24:50</b></div><div class="c" style="left:243px;width:55px"><b class="x" style="transform:matrix(0.9214,0.0005,0,0.9349,23.70,12.18)">6</b></div><div class="c" style="left:299px;width:72px"><b class="x" style="transform:matrix(1.0806,0.0005,0,0.9349,24.92,12.18)">2/2</b></div><div class="c" style="left:371px;width:80px"><b class="x" style="transform:matrix(0.9804,0.0005,0,0.9349,15.47,12.18)">100.0%</b></div><div class="c" style="left:452px;width:68px"><b class="x" style="transform:matrix(1.1199,0.0005,0,0.9349,22.52,12.18)">0/2</b></div><div class="c" style="left:520px;width:80px"><b class="x" style="transform:matrix(0.9881,0.0005,0,0.9349,23.33,12.18)">0.0%</b></div><div class="c" style="left:601px;width:67px"><b class="x" style="transform:matrix(1.0806,0.0005,0,0.9349,22.32,12.18)">2/2</b></div><div class="c" style="left:668px;width:80px"><b class="x" style="transform:matrix(0.9804,0.0005,0,0.9349,15.07,12.18)">100.0%</b></div><div class="c" style="left:749px;width:43px"><b class="x" style="transform:matrix(1.0377,0.0005,0,0.9349,17.57,12.18)">0</b></div><div class="c" style="left:792px;width:46px"><b class="x" style="transform:matrix(0.8800,0.0005,0,0.9349,19.46,12.18)">1</b></div><div class="c" style="left:838px;width:45px"><b class="x" style="transform:matrix(0.8800,0.0005,0,0.9349,18.26,12.18)">1</b></div><div class="c" style="left:884px;width:54px"><b class="x" style="transform:matrix(0.8800,0.0005,0,0.9349,23.66,12.18)">1</b></div><div class="c" style="left:938px;width:55px"><b class="x" style="transform:matrix(0.9362,0.0005,0,0.9349,24.14,12.18)">2</b></div><div class="c" style="left:993px;width:48px"><b class="x" style="transform:matrix(1.0377,0.0005,0,0.9349,19.22,12.18)">0</b></div><div class="c" style="left:1042px;width:39px"><b class="x" style="transform:matrix(1.0377,0.0005,0,0.9349,15.02,12.18)">0</b></div><div class="c" style="left:1081px;width:41px"><b class="x" style="transform:matrix(1.0377,0.0005,0,0.9349,16.12,12.18)">0</b></div><div class="c" style="left:1123px;width:45px"><b class="x" style="transform:matrix(1.0377,0.0005,0,0.9349,18.42,12.18)">0</b></div><div class="c" style="left:1168px;width:45px"><b class="x" style="transform:matrix(0.9362,0.0005,0,0.9349,18.84,12.18)">2</b></div><div class="c" style="left:1214px;width:63px"><b class="x" style="transform:matrix(0.9314,0.0005,0,0.9349,19.62,12.18)">10</b></div></div>
<div class="r" style="top:601px"><div class="c" style="left:0px;width:161px"><span class="x t" style="transform:matrix(1.0200,0.0005,0,0.9810,9.19,11.82)">Team</span></div><div class="c" style="left:162px;width:81px"></div><div class="c" style="left:243px;width:55px"></div><div class="c" style="left:299px;width:72px"></div><div class="c" style="left:371px;width:80px"></div><div class="c" style="left:452px;width:68px"></div><div class="c" style="left:520px;width:80px"></div><div class="c" style="left:601px;width:67px"></div><div class="c" style="left:668px;width:80px"></div><div class="c" style="left:749px;width:43px"><b class="x" style="transform:matrix(0.8800,0.0005,0,0.9349,18.11,12.18)">1</b></div><div class="c" style="left:792px;width:46px"><b class="x" style="transform:matrix(0.8800,0.0005,0,0.9349,19.46,12.18)">1</b></div><div class="c" style="left:838px;width:45px"><b class="x" style="transform:matrix(0.9362,0.0005,0,0.9349,18.14,12.18)">2</b></div><div class="c" style="left:884px;width:54px"><b class="x" style="transform:matrix(1.0377,0.0005,0,0.9349,23.12,12.18)">0</b></div><div class="c" style="left:938px;width:55px"><b class="x" style="transform:matrix(1.0377,0.0005,0,0.9349,23.72,12.18)">0</b></div><div class="c" style="left:993px;width:48px"><b class="x" style="transform:matrix(1.0377,0.0005,0,0.9349,19.22,12.18)">0</b></div><div class="c" style="left:1042px;width:39px"><b class="x" style="transform:matrix(1.0377,0.0005,0,0.9349,15.02,12.18)">0</b></div><div class="c" style="left:1081px;width:41px"><b class="x" style="transform:matrix(1.0377,0.0005,0,0.9349,16.12,12.18)">0</b></div><div class="c" style="left:1123px;width:45px"><b class="x" style="transform:matrix(1.0377,0.0005,0,0.9349,18.42,12.18)">0</b></div><div class="c" style="left:1168px;width:45px"><b class="x" style="transform:matrix(1.0377,0.0005,0,0.9349,18.42,12.18)">0</b></div><div class="c" style="left:1214px;width:63px"><b class="x" style="transform:matrix(0.9362,0.0005,0,0.9349,23.44,12.18)">2</b></div></div>
<div class="r" style="top:645px"><div class="c" style="left:0px;width:161px"><span class="x t" style="transform:matrix(1.0567,0.0005,0,0.9810,9.19,11.82)">Total</span></div><div class="c" style="left:162px;width:81px"><b class="x" style="transform:matrix(1.0590,0.0005,0,0.9349,16.13,12.18)">200:00</b></div><div class="c" style="left:243px;width:55px"><b class="x" style="transform:matrix(0.9220,0.0005,0,0.9349,20.01,12.18)">99</b></div><div class="c" style="left:299px;width:72px"><b class="x" style="transform:matrix(1.1004,0.0005,0,0.9349,15.78,12.18)">24/40</b></div><div class="c" style="left:371px;width:80px"><b class="x" style="transform:matrix(0.9937,0.0005,0,0.9349,19.36,12.18)">60.0%</b></div><div class="c" style="left:452px;width:68px"><b class="x" style="transform:matrix(1.0019,0.0005,0,0.9349,15.47,12.18)">13/26</b></div><div class="c" style="left:520px;width:80px"><b class="x" style="transform:matrix(0.9911,0.0005,0,0.9349,19.43,12.18)">50.0%</b></div><div class="c" style="left:601px;width:67px"><b class="x" style="transform:matrix(0.9561,0.0005,0,0.9349,15.47,12.18)">12/14</b></div><div class="c" style="left:668px;width:80px"><b class="x" style="transform:matrix(0.9322,0.0005,0,0.9349,20.24,12.18)">85.7%</b></div><div class="c" style="left:749px;width:43px"><b class="x" style="transform:matrix(0.9314,0.0005,0,0.9349,14.17,12.18)">10</b></div><div class="c" style="left:792px;width:46px"><b class="x" style="transform:matrix(0.9844,0.0005,0,0.9349,15.20,12.18)">22</b></div><div class="c" style="left:838px;width:45px"><b class="x" style="transform:matrix(0.9645,0.0005,0,0.9349,14.28,12.18)">32</b></div><div class="c" style="left:884px;width:54px"><b class="x" style="transform:matrix(0.9231,0.0005,0,0.9349,19.90,12.18)">27</b></div><div class="c" style="left:938px;width:55px"><b class="x" style="transform:matrix(0.8800,0.0005,0,0.9349,24.37,12.18)">9</b></div><div class="c" style="left:993px;width:48px"><b class="x" style="transform:matrix(0.8800,0.0005,0,0.9349,16.46,12.18)">11</b></div><div class="c" style="left:1042px;width:39px"><b class="x" style="transform:matrix(0.9121,0.0005,0,0.9349,15.42,12.18)">4</b></div><div class="c" style="left:1081px;width:41px"><b class="x" style="transform:matrix(0.8800,0.0005,0,0.9349,16.66,12.18)">1</b></div><div class="c" style="left:1123px;width:45px"><b class="x" style="transform:matrix(0.8800,0.0005,0,0.9349,15.44,12.18)">21</b></div><div class="c" style="left:1168px;width:45px"><b class="x" style="transform:matrix(0.8800,0.0005,0,0.9349,15.33,12.18)">15</b></div><div class="c" style="left:1214px;width:63px"><b class="x" style="transform:matrix(0.9221,0.0005,0,0.9349,15.89,12.18)">122</b></div></div>
<i class="vl" style="left:161px"></i><i class="vl" style="left:298px"></i><i class="vl" style="left:451px"></i><i class="vl" style="left:600px"></i><i class="vl" style="left:748px"></i><i class="vl" style="left:883px"></i><i class="vl" style="left:1041px"></i><i class="vl" style="left:1122px"></i><i class="vl" style="left:1213px"></i>
</div>
</div>
</body>
</html>
